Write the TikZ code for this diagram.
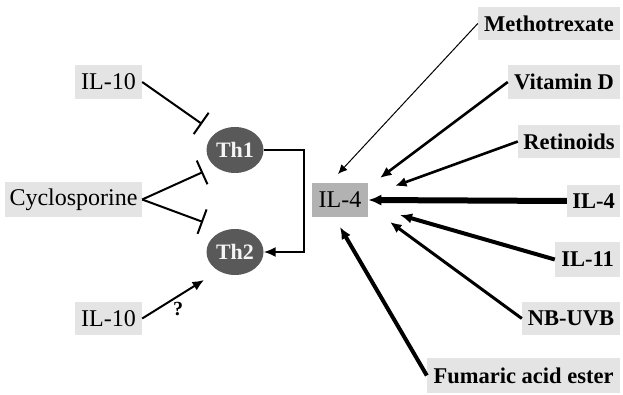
\documentclass[tikz,border=0pt]{standalone}
\usepackage{fontspec}
\setmainfont{Liberation Serif}
\usetikzlibrary{arrows.meta,shapes.geometric}
\definecolor{boxgray}{HTML}{E4E4E4}
\definecolor{centergray}{HTML}{B2B2B2}
\definecolor{cellgray}{HTML}{595959}
\begin{document}
\begin{tikzpicture}[x=1pt,y=-1pt,
  lbox/.style={fill=boxgray, inner sep=0pt, font=\fontsize{24}{26}\selectfont},
  rbox/.style={fill=boxgray, inner sep=0pt, font=\fontsize{22.5}{24}\selectfont\bfseries},
  cell/.style={ellipse, fill=cellgray, minimum width=57pt, minimum height=46pt, inner sep=0pt,
     text=white!92!gray, font=\fontsize{22}{24}\selectfont\bfseries},
  inh/.style={line width=2pt, -{Bar[width=26pt,line width=2pt]}},
  act/.style={-{Latex[length=#1*5.5pt+6pt,width=#1*4pt+6pt]}},
]
\useasboundingbox (0,0) rectangle (623,395);
% left boxes
\node[lbox, minimum width=67pt, minimum height=34pt] (il10a) at (108.5,82) {IL-10};
\node[lbox, minimum width=137pt, minimum height=35pt] (cyc) at (73.5,199.5) {Cyclosporine};
\node[lbox, minimum width=67pt, minimum height=33pt] (il10b) at (108.5,318.5) {IL-10};
% cells
\node[cell] (th1) at (235,150) {Th1};
\node[cell] (th2) at (235,252) {Th2};
% center
\node[fill=centergray, inner sep=0pt, minimum width=56pt, minimum height=34pt,
  font=\fontsize{24}{26}\selectfont] (il4) at (340,200) {IL-4};
% right boxes
\node[rbox, minimum width=142pt, minimum height=33pt] (meth) at (549,23.5) {Methotrexate};
\node[rbox, minimum width=112pt, minimum height=34pt] (vitd) at (564,82) {Vitamin D};
\node[rbox, minimum width=102pt, minimum height=33pt] (ret) at (569,141.5) {Retinoids};
\node[rbox, minimum width=53pt, minimum height=32pt] (il4r) at (593.5,201) {IL-4};
\node[rbox, minimum width=65pt, minimum height=35pt] (il11) at (587.5,259.5) {IL-11};
\node[rbox, minimum width=98pt, minimum height=33pt] (nb) at (571,318.5) {NB-UVB};
\node[rbox, minimum width=193pt, minimum height=35pt] (fum) at (523.5,375.5) {Fumaric acid ester};
% coordinates
\coordinate (i1) at (202,124);
\coordinate (i2) at (203,172);
\coordinate (i3) at (203,222);
\coordinate (a1) at (204,280);
\coordinate (tm) at (338,174);
\coordinate (tv) at (380,178);
\coordinate (tr) at (395,186);
\coordinate (t11) at (400,215);
\coordinate (tnb) at (390,222);
\coordinate (tf) at (340,227);
% inhibitions
\draw[inh] (il10a.east) -- (i1);
\draw[inh] (cyc.east) -- (i2);
\draw[inh] (cyc.east) -- (i3);
\draw[line width=2pt, act=1] (il10b.east) -- (a1);
\node[font=\fontsize{20}{22}\selectfont\bfseries] (q) at (178,309) {?};
% Th1 -> Th2
\draw[line width=2pt, -{Latex[length=12pt,width=10pt]}] (th1.east) -- ++(40,0) |- (th2.east);
% arrows into IL-4
\draw[line width=1pt, act=0.6] (meth.west) -- (tm);
\draw[line width=2.6pt, act=1] (vitd.west) -- (tv);
\draw[line width=2.6pt, act=1] (ret.west) -- (tr);
\draw[line width=6pt, act=1.3] (il4r.west) -- (il4.east);
\draw[line width=4pt, act=1.1] (il11.west) -- (t11);
\draw[line width=3pt, act=1] (nb.west) -- (tnb);
\draw[line width=4pt, act=1.1] (fum.west) -- (tf);
\end{tikzpicture}
\end{document}
